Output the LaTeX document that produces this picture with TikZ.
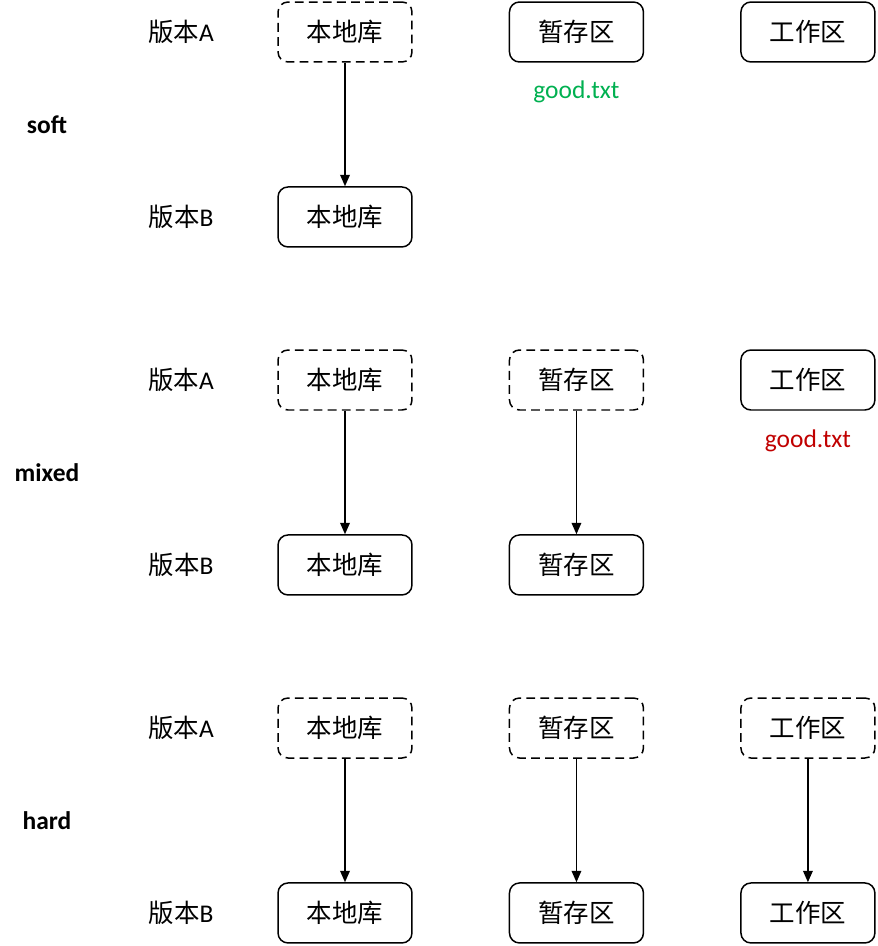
\documentclass[tikz,border=0pt]{standalone}
\usepackage{fontspec}
\setmainfont{Carlito}
\newfontfamily\cjk{Noto Sans CJK SC}
\usetikzlibrary{arrows.meta}
\usetikzlibrary{positioning}
\definecolor{goodgreen}{RGB}{0,176,80}
\definecolor{goodred}{RGB}{192,0,0}
\tikzset{
  area/.style={draw, rounded corners=0.2cm, minimum width=2.68cm, minimum height=1.2cm,
    line width=0.85pt, font=\cjk\fontsize{14.5}{17}\selectfont},
  old/.style={area, dash pattern=on 5pt off 3pt},
  ver/.style={font=\fontsize{14.5}{17}\selectfont},
  mode/.style={font=\bfseries\fontsize{14.5}{17}\selectfont},
  file/.style={font=\fontsize{14.5}{17}\selectfont}
}

\begin{document}
\begin{tikzpicture}[x=0.02cm,y=-0.02cm,node distance=3.7cm and 4.63cm,on grid,
    line width=0.8pt,>={Triangle[length=6.5pt,width=5.5pt]}]
   \useasboundingbox (0,0) rectangle (877,946);
   % soft
   \node[mode] (soft) at (47,125) {soft};
   \node[old] (s_lib_a) at (345,32) {本地库};
   \node[area] (s_idx_a) [right=of s_lib_a] {暂存区};
   \node[area] (s_wd_a) [right=of s_idx_a] {工作区};
   \node[area] (s_lib_b) [below=of s_lib_a] {本地库};
   \node[ver] (s_ver_a) [left=3.28cm of s_lib_a] {{\cjk 版本}A};
   \node[ver] (s_ver_b) [left=3.28cm of s_lib_b] {{\cjk 版本}B};
   \node[file, text=goodgreen] (s_file) [below=1.2cm of s_idx_a] {good.txt};
   \path[->] (s_lib_a) edge (s_lib_b);
   % mixed
   \node[mode] (mixed) at (47,473) {mixed};
   \node[old] (m_lib_a) at (345,380) {本地库};
   \node[old] (m_idx_a) [right=of m_lib_a] {暂存区};
   \node[area] (m_wd_a) [right=of m_idx_a] {工作区};
   \node[area] (m_lib_b) [below=of m_lib_a] {本地库};
   \node[area] (m_idx_b) [below=of m_idx_a] {暂存区};
   \node[ver] (m_ver_a) [left=3.28cm of m_lib_a] {{\cjk 版本}A};
   \node[ver] (m_ver_b) [left=3.28cm of m_lib_b] {{\cjk 版本}B};
   \node[file, text=goodred] (m_file) [below=1.22cm of m_wd_a] {good.txt};
   \path[->]
    (m_lib_a) edge (m_lib_b)
    (m_idx_a) edge (m_idx_b);
   % hard
   \node[mode] (hard) at (47,821) {hard};
   \node[old] (h_lib_a) at (345,728) {本地库};
   \node[old] (h_idx_a) [right=of h_lib_a] {暂存区};
   \node[old] (h_wd_a) [right=of h_idx_a] {工作区};
   \node[area] (h_lib_b) [below=of h_lib_a] {本地库};
   \node[area] (h_idx_b) [below=of h_idx_a] {暂存区};
   \node[area] (h_wd_b) [below=of h_wd_a] {工作区};
   \node[ver] (h_ver_a) [left=3.28cm of h_lib_a] {{\cjk 版本}A};
   \node[ver] (h_ver_b) [left=3.28cm of h_lib_b] {{\cjk 版本}B};
   \path[->]
    (h_lib_a) edge (h_lib_b)
    (h_idx_a) edge (h_idx_b)
    (h_wd_a) edge (h_wd_b);
\end{tikzpicture}
\end{document}
